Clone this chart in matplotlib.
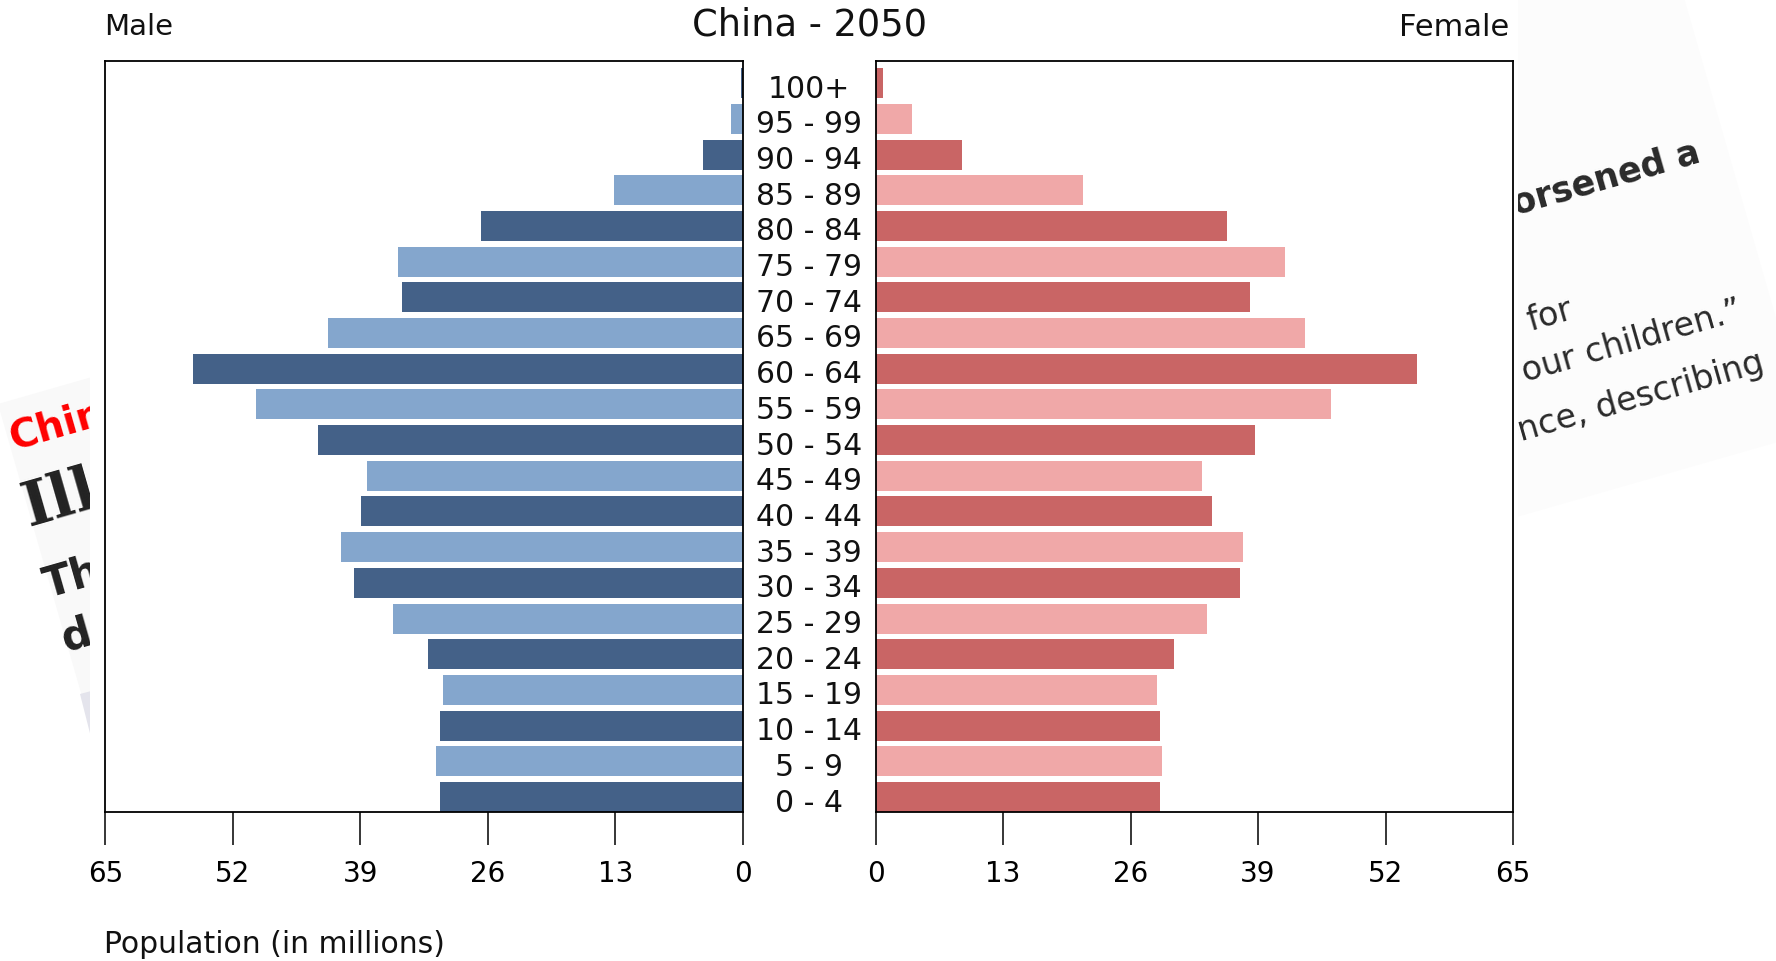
import numpy as np
import matplotlib.pyplot as plt
import matplotlib.transforms as mtransforms
from matplotlib.patches import Polygon, Rectangle

# age groups, bottom to top
ages = ['0 - 4', '5 - 9', '10 - 14', '15 - 19', '20 - 24', '25 - 29', '30 - 34',
        '35 - 39', '40 - 44', '45 - 49', '50 - 54', '55 - 59', '60 - 64', '65 - 69',
        '70 - 74', '75 - 79', '80 - 84', '85 - 89', '90 - 94', '95 - 99', '100+']
# population in millions
male = [30.9, 31.3, 30.9, 30.6, 32.1, 35.7, 39.6, 41.0, 38.9, 38.3, 43.3,
        49.6, 56.1, 42.3, 34.8, 35.2, 26.7, 13.1, 4.1, 1.2, 0.25]
female = [29.0, 29.2, 29.0, 28.7, 30.4, 33.8, 37.2, 37.5, 34.3, 33.3, 38.7,
          46.4, 55.2, 43.8, 38.2, 41.8, 35.8, 21.2, 8.8, 3.7, 0.75]
xticks = [0, 13, 26, 39, 52, 65]

W, H = 1776, 962
fig = plt.figure(figsize=(W / 100, H / 100), dpi=100)

# background: bits of a web page behind the chart
bg = fig.add_axes([0, 0, 1, 1], zorder=0)
bg.set_xlim(0, W)
bg.set_ylim(H, 0)
bg.axis('off')
bg.add_patch(Polygon([(1533, -527), (1809, 434), (848, 710), (572, -251)],
                     closed=True, fc='#fcfcfc', ec='none', zorder=1))
bg.add_patch(Polygon([(-2, 405), (959, 129), (1235, 1090), (274, 1366)],
                     closed=True, fc='#f9f9f9', ec='none', zorder=1))
bg.add_patch(Polygon([(80, 695), (95, 691), (110, 750), (95, 754)],
                     closed=True, fc='#e4e4ec', ec='none', zorder=1.5))
rot = 16
kw = dict(rotation=rot, rotation_mode='anchor', va='baseline', zorder=2)
bg.text(13, 450, 'China', color='#ff0000', fontsize=28, fontweight='bold', ha='left', **kw)
bg.text(28, 527, 'Illegal', color='#222222', fontsize=44, fontweight='bold',
        family='DejaVu Serif', ha='left', **kw)
bg.text(48, 598, 'The', color='#222222', fontsize=30, fontweight='bold', ha='left', **kw)
bg.text(65, 652, 'de', color='#222222', fontsize=30, fontweight='bold', ha='left', **kw)
bg.text(1702, 161, 'worsened a', color='#2a2a2a', fontsize=25, fontweight='bold', ha='right', **kw)
bg.text(1530, 331, 'for', color='#2a2a2a', fontsize=24, ha='left', **kw)
bg.text(1525, 382, 'our children.\u201d', color='#2a2a2a', fontsize=24, ha='left', **kw)
bg.text(1521, 441, 'nce, describing', color='#2a2a2a', fontsize=24, ha='left', **kw)
# the chart image itself sits on a white sheet
bg.add_patch(Rectangle((90, 0), 1518 - 90, H, fc='white', ec='none', zorder=4))

y = np.arange(len(ages))
male_cols = ['#446188' if i % 2 == 0 else '#84a6cd' for i in y]
female_cols = ['#c96565' if i % 2 == 0 else '#f0a8a8' for i in y]

bottom = 1 - 813 / H
height = 751 / H
axm = fig.add_axes([105.3 / W, bottom, (743 - 105.3) / W, height], zorder=1)
axf = fig.add_axes([875.5 / W, bottom, (1513 - 875.5) / W, height], zorder=1)

axm.barh(y, male, height=0.84, color=male_cols)
axf.barh(y, female, height=0.84, color=female_cols)
axm.set_xlim(65, 0)
axf.set_xlim(0, 65)
for ax in (axm, axf):
    ax.set_ylim(-0.42, 20.62)
    ax.set_xticks(xticks)
    ax.set_yticks([])
    ax.tick_params(axis='x', direction='out', length=24, width=1.1, pad=10,
                   labelsize=20, colors='black')
    for sp in ax.spines.values():
        sp.set_linewidth(1.3)
        sp.set_color('black')

trans = mtransforms.blended_transform_factory(fig.transFigure, axm.transData)
trans = trans + mtransforms.ScaledTranslation(0, -0.05, fig.dpi_scale_trans)
for i, lab in enumerate(ages):
    axm.text(809 / W, i, lab, transform=trans, ha='center', va='center',
             fontsize=21.5, color='#111111', clip_on=False)

fig.text(810 / W, 1 - 25 / H, 'China - 2050', ha='center', va='center', fontsize=26.5, color='#111111')
fig.text(104 / W, 1 - 27 / H, 'Male', ha='left', va='center', fontsize=21, color='#111111')
fig.text(1509 / W, 1 - 27 / H, 'Female', ha='right', va='center', fontsize=22, color='#111111')
fig.text(104 / W, 1 - 945 / H, 'Population (in millions)', ha='left', va='center',
         fontsize=21.5, color='#111111')

fig.savefig('out.png', dpi=100)
